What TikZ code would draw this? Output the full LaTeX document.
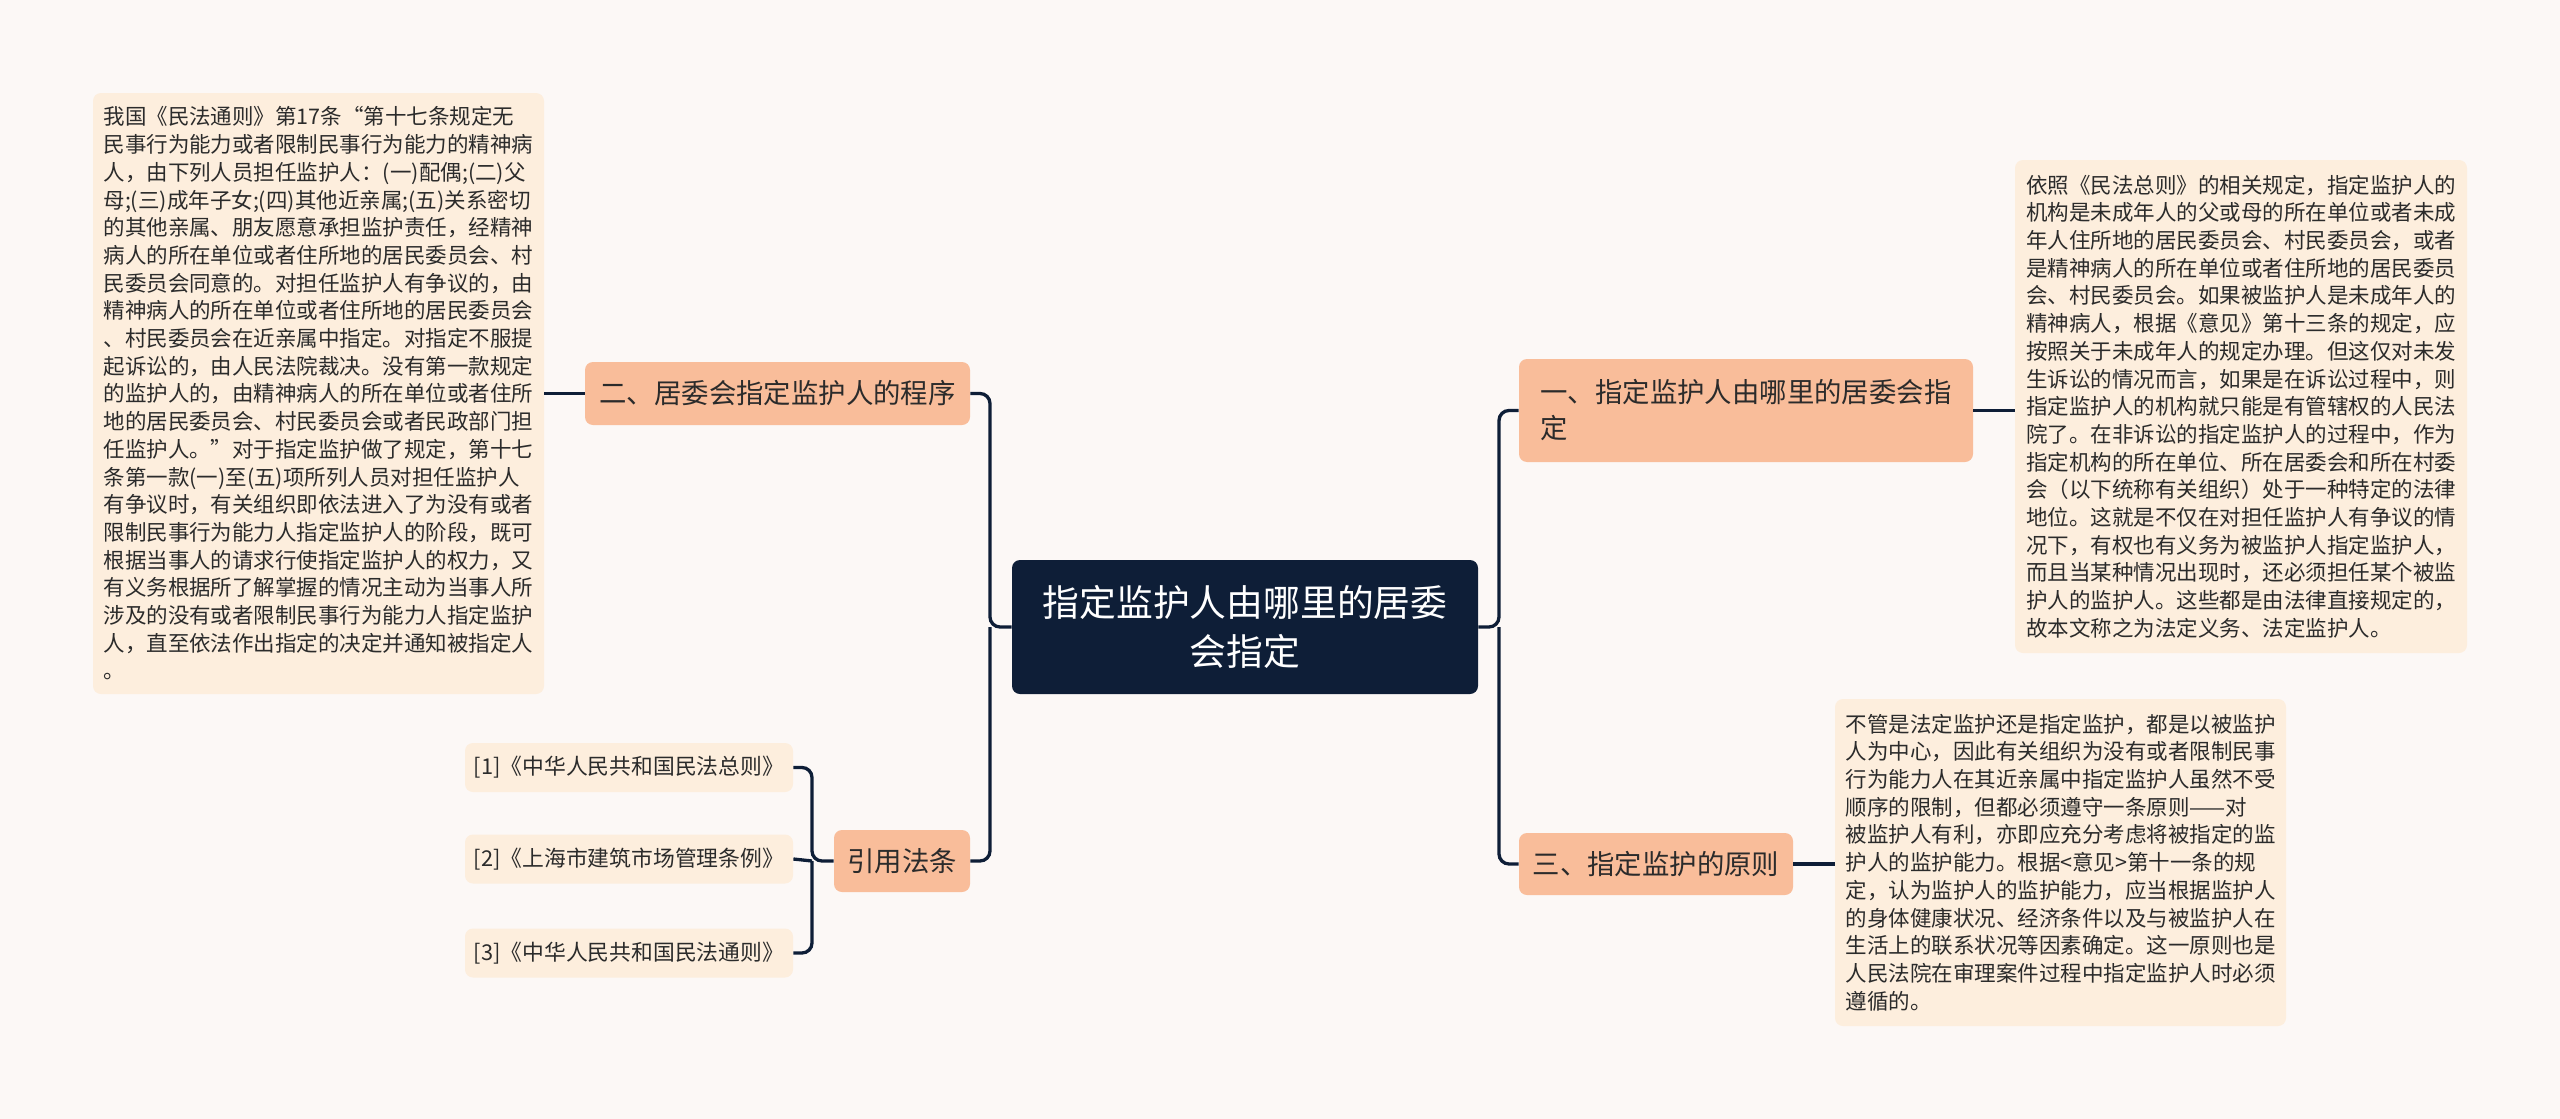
\documentclass[tikz,border=0pt]{standalone}
\usepackage{fontspec}
\setmainfont{Noto Sans CJK SC}
\usetikzlibrary{positioning}

\definecolor{bgcol}{HTML}{FCF8F6}
\definecolor{navy}{HTML}{0E1E37}
\definecolor{salmon}{HTML}{F9BD9A}
\definecolor{peach}{HTML}{FDEEDD}
\definecolor{ink}{HTML}{2B2B2B}

\tikzset{
    root/.style={fill=navy, text=white, rounded corners=4pt, align=center,
        minimum width=233pt, minimum height=67pt, inner sep=2pt,
        font=\fontsize{18.4pt}{24.5pt}\selectfont},
    topic/.style={fill=salmon, text=ink, rounded corners=4pt, align=left,
        inner sep=2pt, font=\fontsize{13.7pt}{18pt}\selectfont},
    leaf/.style={fill=peach, text=ink, rounded corners=4pt, align=left,
        inner sep=2pt, font=\fontsize{10.75pt}{13.85pt}\selectfont},
    cite/.style={fill=peach, text=ink, rounded corners=4pt, align=left,
        minimum width=164pt, minimum height=24.5pt, inner sep=2pt,
        font=\fontsize{10.9pt}{14pt}\selectfont},
    link/.style={draw=navy, line width=1.65pt, rounded corners=5pt}
}

\begin{document}
\begin{tikzpicture}[x=0.5pt, y=-0.5pt]
    \fill[bgcol] (0, 0) rectangle (2560, 1119);
    \useasboundingbox (0, 0) rectangle (2560, 1119);

    % main node
    \node[root] (main) at (1245, 627) {指定监护人由哪里的居委\\会指定};

    % right side
    \node[topic, minimum width=227pt, minimum height=51.5pt] (one) at (1746, 410.5)
        {一、指定监护人由哪里的居委会指\\定};
    \node[topic, minimum width=137pt, minimum height=31pt] (three) at (1656, 864)
        {三、指定监护的原则};
    \node[leaf, minimum width=226pt, minimum height=246.5pt] (oneText) at (2241, 406.5)
        {依照《民法总则》的相关规定，指定监护人的\\
         机构是未成年人的父或母的所在单位或者未成\\
         年人住所地的居民委员会、村民委员会，或者\\
         是精神病人的所在单位或者住所地的居民委员\\
         会、村民委员会。如果被监护人是未成年人的\\
         精神病人，根据《意见》第十三条的规定，应\\
         按照关于未成年人的规定办理。但这仅对未发\\
         生诉讼的情况而言，如果是在诉讼过程中，则\\
         指定监护人的机构就只能是有管辖权的人民法\\
         院了。在非诉讼的指定监护人的过程中，作为\\
         指定机构的所在单位、所在居委会和所在村委\\
         会（以下统称有关组织）处于一种特定的法律\\
         地位。这就是不仅在对担任监护人有争议的情\\
         况下，有权也有义务为被监护人指定监护人，\\
         而且当某种情况出现时，还必须担任某个被监\\
         护人的监护人。这些都是由法律直接规定的，\\
         故本文称之为法定义务、法定监护人。};
    \node[leaf, minimum width=225.5pt, minimum height=163.5pt] (threeText) at (2060.5, 862.5)
        {不管是法定监护还是指定监护，都是以被监护\\
         人为中心，因此有关组织为没有或者限制民事\\
         行为能力人在其近亲属中指定监护人虽然不受\\
         顺序的限制，但都必须遵守一条原则——对\\
         被监护人有利，亦即应充分考虑将被指定的监\\
         护人的监护能力。根据<意见>第十一条的规\\
         定，认为监护人的监护能力，应当根据监护人\\
         的身体健康状况、经济条件以及与被监护人在\\
         生活上的联系状况等因素确定。这一原则也是\\
         人民法院在审理案件过程中指定监护人时必须\\
         遵循的。};

    % left side
    \node[topic, minimum width=192.5pt, minimum height=31.5pt] (two) at (777.5, 393.5)
        {二、居委会指定监护人的程序};
    \node[topic, minimum width=68pt, minimum height=31pt] (law) at (902, 861)
        {引用法条};
    \node[leaf, minimum width=225.5pt, minimum height=300.5pt] (twoText) at (318.5, 393.5)
        {我国《民法通则》第17条“第十七条规定无\\
         民事行为能力或者限制民事行为能力的精神病\\
         人，由下列人员担任监护人：(一)配偶;(二)父\\
         母;(三)成年子女;(四)其他近亲属;(五)关系密切\\
         的其他亲属、朋友愿意承担监护责任，经精神\\
         病人的所在单位或者住所地的居民委员会、村\\
         民委员会同意的。对担任监护人有争议的，由\\
         精神病人的所在单位或者住所地的居民委员会\\
         、村民委员会在近亲属中指定。对指定不服提\\
         起诉讼的，由人民法院裁决。没有第一款规定\\
         的监护人的，由精神病人的所在单位或者住所\\
         地的居民委员会、村民委员会或者民政部门担\\
         任监护人。”对于指定监护做了规定，第十七\\
         条第一款(一)至(五)项所列人员对担任监护人\\
         有争议时，有关组织即依法进入了为没有或者\\
         限制民事行为能力人指定监护人的阶段，既可\\
         根据当事人的请求行使指定监护人的权力，又\\
         有义务根据所了解掌握的情况主动为当事人所\\
         涉及的没有或者限制民事行为能力人指定监护\\
         人，直至依法作出指定的决定并通知被指定人\\
         。};
    \node[cite] (ref1) at (629, 767.5) {[1]《中华人民共和国民法总则》};
    \node[cite] (ref2) at (629, 859) {[2]《上海市建筑市场管理条例》};
    \node[cite] (ref3) at (629, 953) {[3]《中华人民共和国民法通则》};

    % connectors
    \coordinate (jR) at (1499, 627);
    \coordinate (jL) at (990, 627);
    \coordinate (jC) at (812, 861);
    \draw[link] (main.east) -- (jR) |- (one.west);
    \draw[link] (jR) |- (three.west);
    \draw[link] (one.east) -- (one.east -| oneText.west);
    \draw[link] (three.east) -- (three.east -| threeText.west);
    \draw[link] (main.west) -- (jL) |- (two.east);
    \draw[link] (jL) |- (law.east);
    \draw[link] (two.west) -- (two.west -| twoText.east);
    \draw[link] (law.west) -- (jC) |- (ref1.east);
    \draw[link] (jC) |- (ref3.east);
    \draw[link] (jC) -- (ref2.east);
\end{tikzpicture}
\end{document}
